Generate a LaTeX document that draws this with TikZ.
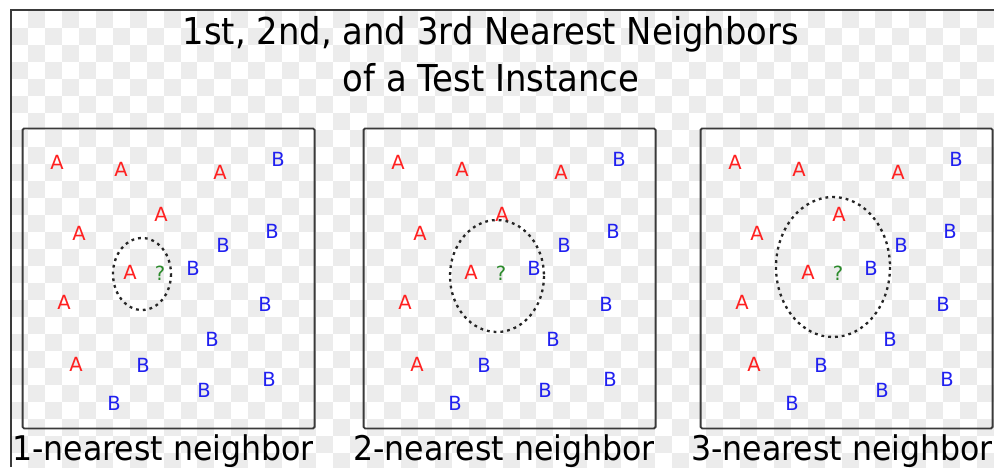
\documentclass[tikz,border=0pt]{standalone}
\usepackage{fontspec}
\setmainfont{DejaVu Sans}
\usepackage{graphicx}
\definecolor{chk}{HTML}{ECECEC}
\definecolor{framec}{HTML}{3A3A3A}
\definecolor{ptA}{HTML}{FF2020}
\definecolor{ptB}{HTML}{2020F0}
\definecolor{ptQ}{HTML}{2A8A2A}
\tikzset{
  panelbox/.style={draw=framec, line width=1.8pt, rounded corners=1.5pt, minimum width=292pt, minimum height=300pt, anchor=north west, inner sep=0pt},
  ptlbl/.style={inner sep=0pt, font=\fontsize{19.5}{19.5}\selectfont},
  lblA/.style={ptlbl, text=ptA},
  lblB/.style={ptlbl, text=ptB},
  lblQ/.style={ptlbl, text=ptQ},
  nnring/.style={draw=black!85, line width=2.3pt, dash pattern=on 2.8pt off 4pt},
  titletxt/.style={inner sep=0pt, anchor=base, font=\fontsize{37}{37}\selectfont},
  captxt/.style={inner sep=0pt, anchor=base, font=\fontsize{34}{34}\selectfont},
}
\begin{document}
\begin{tikzpicture}[x=1pt,y=-1pt]
\useasboundingbox (0,0) rectangle (994,467);
\fill[white] (0,0) rectangle (994,467);
% checkerboard background
\begin{scope}
\clip (11,10) rectangle (994,467);
\foreach \r in {0,...,27}{
  \pgfmathtruncatemacro\s{1-mod(\r,2)}
  \pgfmathtruncatemacro\t{\s+2}
  \foreach \c in {\s,\t,...,58}{
    \fill[chk] ({11+\c*16.95},{11+\r*17}) rectangle +(16.95,17);
  }
}
\end{scope}
% outer frame (top and left edges)
\draw[framec, line width=2pt] (11,467) -- (11,9.5) -- (994,9.5);
% title
\node[titletxt] (title1) at (491,44) {\scalebox{0.915}[1]{1st, 2nd, and 3rd Nearest Neighbors}};
\node[titletxt] (title2) at (491,91) {\scalebox{0.915}[1]{of a Test Instance}};
% panels
\foreach \p/\dx/\rx/\ry/\cx/\cy/\cap/\capx in {
  1/0/29/36/142/274/1/163,
  2/341/47/56/156/276/2/504,
  3/678/57/70/155/267/3/842}{
  \begin{scope}[xshift=\dx pt]
    \node[panelbox] (box\p) at (21.7,127.5) {};
    \foreach \x/\y [count=\i] in {57/162,121/169,220/172,161/214,79/233,130/272,64/302,76/364}{
      \node[lblA] (a\p-\i) at (\x,\y) {A};
    }
    \foreach \x/\y [count=\i] in {278/159,272/231,223/245,193/268,265/304,212/339,143/365,269/379,204/390,114/403}{
      \node[lblB] (b\p-\i) at (\x,\y) {B};
    }
    \node[lblQ] (q\p) at (160,273) {?};
    \draw[nnring] (\cx,\cy) ellipse [x radius=\rx, y radius=\ry];
  \end{scope}
  \node[captxt] (cap\p) at (\capx,460) {\scalebox{0.93}[1]{\cap-nearest neighbor}};
}
\end{tikzpicture}
\end{document}
